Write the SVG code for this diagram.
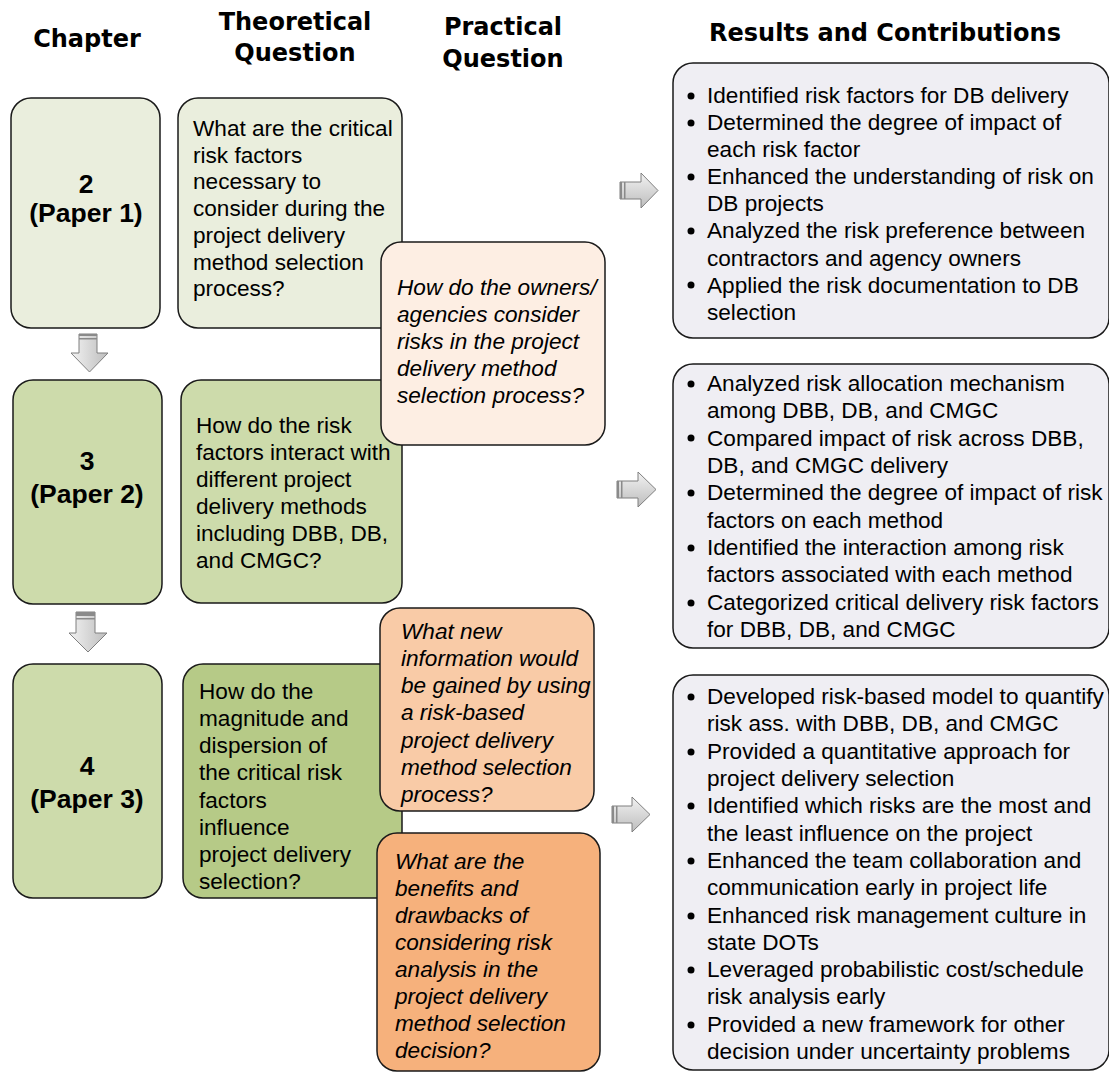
<svg xmlns="http://www.w3.org/2000/svg" width="1109" height="1074" viewBox="0 0 1109 1074">
<defs>
<linearGradient id="gh" x1="0" y1="0" x2="0" y2="1">
<stop offset="0" stop-color="#f2f2f2"/><stop offset="1" stop-color="#bdbdbd"/>
</linearGradient>
<linearGradient id="gv" x1="0" y1="0" x2="1" y2="0">
<stop offset="0" stop-color="#f2f2f2"/><stop offset="1" stop-color="#bdbdbd"/>
</linearGradient>
</defs>
<style>
.hd{font-family:"DejaVu Sans",Verdana,sans-serif;font-weight:bold;font-size:24px;fill:#000;text-anchor:middle}
.ch{font-family:"Liberation Sans",Arial,sans-serif;font-weight:bold;font-size:26.5px;fill:#000;text-anchor:middle}
.tx{font-family:"Liberation Sans",Arial,sans-serif;font-size:22.6px;fill:#000}
.it{font-family:"Liberation Sans",Arial,sans-serif;font-size:22.6px;font-style:italic;fill:#000}
.box{stroke:#1a1a1a;stroke-width:1.5}
.arr{fill:url(#gh);stroke:#7f7f7f;stroke-width:1}
.arrv{fill:url(#gv);stroke:#7f7f7f;stroke-width:1}
.str{fill:#8a8a8a}
</style>
<rect width="1109" height="1074" fill="#fff"/>
<g id="headers">
<text class="hd" x="87" y="47">Chapter</text>
<text class="hd" x="295" y="30">Theoretical</text>
<text class="hd" x="295" y="61">Question</text>
<text class="hd" x="503" y="35">Practical</text>
<text class="hd" x="503" y="67">Question</text>
<text class="hd" x="885" y="41">Results and Contributions</text>
</g>
<g id="connectors">
<polygon class="arrv" points="79,334 97,334 97,353 108,353 89.5,372 71,353 79,353"/>
<rect class="str" x="79" y="334" width="18" height="2"/><rect class="str" x="79" y="338" width="18" height="1.5"/>
<polygon class="arrv" points="76,612 95,612 95,633 107,633 88,652 69,633 76,633"/>
<rect class="str" x="76" y="612" width="19" height="4" fill="#555"/><rect class="str" x="76" y="618" width="19" height="1.5"/>
<polygon class="arr" points="620,182 641,182 641,173 658,190.5 641,208 641,199 620,199"/>
<rect class="str" x="620" y="182" width="2" height="17"/><rect class="str" x="624" y="182" width="1.5" height="17"/>
<polygon class="arr" points="617,481 638,481 638,472 656,489.5 638,507 638,498 617,498"/>
<rect class="str" x="617" y="481" width="2" height="17"/><rect class="str" x="621" y="481" width="1.5" height="17"/>
<polygon class="arr" points="612,806 632,806 632,797 650,814.5 632,832 632,823 612,823"/>
<rect class="str" x="612" y="806" width="2" height="17"/><rect class="str" x="616" y="806" width="1.5" height="17"/>
</g>
<g id="ch2">
<rect class="box" x="11" y="98" width="149" height="230" rx="20" fill="#EAEEDD"/>
<text class="ch" x="86" y="193">2</text>
<text class="ch" x="86" y="222">(Paper 1)</text>
</g>
<g id="ch3">
<rect class="box" x="13" y="380" width="149" height="224" rx="20" fill="#CDDBAB"/>
<text class="ch" x="87" y="470">3</text>
<text class="ch" x="87" y="503">(Paper 2)</text>
</g>
<g id="ch4">
<rect class="box" x="13" y="664" width="149" height="234" rx="20" fill="#CDDBAB"/>
<text class="ch" x="87" y="775">4</text>
<text class="ch" x="87" y="808">(Paper 3)</text>
</g>
<g id="t1">
<rect class="box" x="178" y="98" width="224" height="230" rx="20" fill="#EAEEDD"/>
<text class="tx" x="193" y="136">What are the critical</text>
<text class="tx" x="193" y="163">risk factors</text>
<text class="tx" x="193" y="189">necessary to</text>
<text class="tx" x="193" y="216">consider during the</text>
<text class="tx" x="193" y="243">project delivery</text>
<text class="tx" x="193" y="270">method selection</text>
<text class="tx" x="193" y="296">process?</text>
</g>
<g id="t2">
<rect class="box" x="181" y="380" width="221" height="223" rx="20" fill="#CDDBAB"/>
<text class="tx" x="196" y="433">How do the risk</text>
<text class="tx" x="196" y="460">factors interact with</text>
<text class="tx" x="196" y="487">different project</text>
<text class="tx" x="196" y="514">delivery methods</text>
<text class="tx" x="196" y="541">including DBB, DB,</text>
<text class="tx" x="196" y="568">and CMGC?</text>
</g>
<g id="t3">
<rect class="box" x="183" y="664" width="219" height="234" rx="20" fill="#B6CA87"/>
<text class="tx" x="199" y="699">How do the</text>
<text class="tx" x="199" y="726">magnitude and</text>
<text class="tx" x="199" y="753">dispersion of</text>
<text class="tx" x="199" y="780">the critical risk</text>
<text class="tx" x="199" y="808">factors</text>
<text class="tx" x="199" y="835">influence</text>
<text class="tx" x="199" y="862">project delivery</text>
<text class="tx" x="199" y="889">selection?</text>
</g>
<g id="p1">
<rect class="box" x="381" y="242" width="224" height="203" rx="20" fill="#FDEEE3"/>
<text class="it" x="397" y="295">How do the owners/</text>
<text class="it" x="397" y="322">agencies consider</text>
<text class="it" x="397" y="349">risks in the project</text>
<text class="it" x="397" y="376">delivery method</text>
<text class="it" x="397" y="403">selection process?</text>
</g>
<g id="p2">
<rect class="box" x="380" y="608" width="214" height="203" rx="20" fill="#F9CBA7"/>
<text class="it" x="401" y="639">What new</text>
<text class="it" x="401" y="666">information would</text>
<text class="it" x="401" y="693">be gained by using</text>
<text class="it" x="401" y="720">a risk-based</text>
<text class="it" x="401" y="748">project delivery</text>
<text class="it" x="401" y="775">method selection</text>
<text class="it" x="401" y="802">process?</text>
</g>
<g id="p3">
<rect class="box" x="377" y="833" width="223" height="238" rx="20" fill="#F6B17C"/>
<text class="it" x="395" y="869">What are the</text>
<text class="it" x="395" y="896">benefits and</text>
<text class="it" x="395" y="923">drawbacks of</text>
<text class="it" x="395" y="950">considering risk</text>
<text class="it" x="395" y="977">analysis in the</text>
<text class="it" x="395" y="1004">project delivery</text>
<text class="it" x="395" y="1031">method selection</text>
<text class="it" x="395" y="1058">decision?</text>
</g>
<g id="r1">
<rect class="box" x="673" y="63" width="436" height="275" rx="20" fill="#EFEEF3"/>
<g fill="#000"><circle cx="691" cy="96" r="3.5"/><circle cx="691" cy="123" r="3.5"/><circle cx="691" cy="177" r="3.5"/><circle cx="691" cy="231" r="3.5"/><circle cx="691" cy="285" r="3.5"/></g>
<text class="tx" x="707" y="103">Identified risk factors for DB delivery</text>
<text class="tx" x="707" y="130">Determined the degree of impact of</text>
<text class="tx" x="707" y="157">each risk factor</text>
<text class="tx" x="707" y="184">Enhanced the understanding of risk on</text>
<text class="tx" x="707" y="211">DB projects</text>
<text class="tx" x="707" y="238">Analyzed the risk preference between</text>
<text class="tx" x="707" y="266">contractors and agency owners</text>
<text class="tx" x="707" y="293">Applied the risk documentation to DB</text>
<text class="tx" x="707" y="320">selection</text>
</g>
<g id="r2">
<rect class="box" x="673" y="364" width="436" height="284" rx="20" fill="#EFEEF3"/>
<g fill="#000"><circle cx="691" cy="384" r="3.5"/><circle cx="691" cy="438" r="3.5"/><circle cx="691" cy="493" r="3.5"/><circle cx="691" cy="548" r="3.5"/><circle cx="691" cy="603" r="3.5"/></g>
<text class="tx" x="707" y="391">Analyzed risk allocation mechanism</text>
<text class="tx" x="707" y="418">among DBB, DB, and CMGC</text>
<text class="tx" x="707" y="446">Compared impact of risk across DBB,</text>
<text class="tx" x="707" y="473">DB, and CMGC delivery</text>
<text class="tx" x="707" y="500">Determined the degree of impact of risk</text>
<text class="tx" x="707" y="528">factors on each method</text>
<text class="tx" x="707" y="555">Identified the interaction among risk</text>
<text class="tx" x="707" y="582">factors associated with each method</text>
<text class="tx" x="707" y="610">Categorized critical delivery risk factors</text>
<text class="tx" x="707" y="637">for DBB, DB, and CMGC</text>
</g>
<g id="r3">
<rect class="box" x="673" y="675" width="436" height="395" rx="20" fill="#EFEEF3"/>
<g fill="#000"><circle cx="691" cy="697" r="3.5"/><circle cx="691" cy="752" r="3.5"/><circle cx="691" cy="806" r="3.5"/><circle cx="691" cy="861" r="3.5"/><circle cx="691" cy="916" r="3.5"/><circle cx="691" cy="970" r="3.5"/><circle cx="691" cy="1025" r="3.5"/></g>
<text class="tx" x="707" y="704">Developed risk-based model to quantify</text>
<text class="tx" x="707" y="731">risk ass. with DBB, DB, and CMGC</text>
<text class="tx" x="707" y="759">Provided a quantitative approach for</text>
<text class="tx" x="707" y="786">project delivery selection</text>
<text class="tx" x="707" y="813">Identified which risks are the most and</text>
<text class="tx" x="707" y="841">the least influence on the project</text>
<text class="tx" x="707" y="868">Enhanced the team collaboration and</text>
<text class="tx" x="707" y="895">communication early in project life</text>
<text class="tx" x="707" y="923">Enhanced risk management culture in</text>
<text class="tx" x="707" y="950">state DOTs</text>
<text class="tx" x="707" y="977">Leveraged probabilistic cost/schedule</text>
<text class="tx" x="707" y="1004">risk analysis early</text>
<text class="tx" x="707" y="1032">Provided a new framework for other</text>
<text class="tx" x="707" y="1059">decision under uncertainty problems</text>
</g>
</svg>
